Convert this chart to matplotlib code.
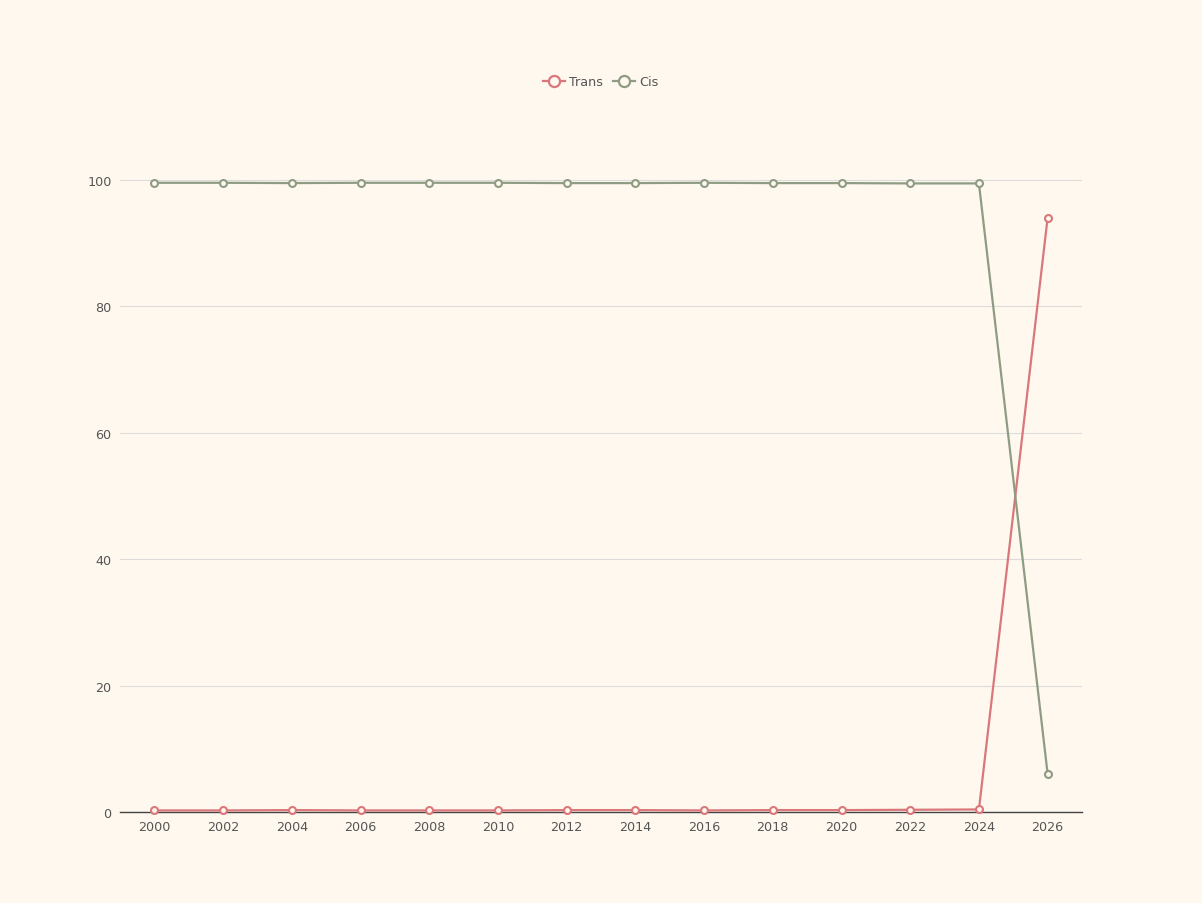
import matplotlib
matplotlib.use("Agg")
import matplotlib.pyplot as plt
from matplotlib.lines import Line2D

years = [2000, 2002, 2004, 2006, 2008, 2010, 2012, 2014, 2016, 2018, 2020, 2022, 2024, 2026]
trans = [0.25, 0.25, 0.3, 0.25, 0.25, 0.25, 0.3, 0.3, 0.25, 0.3, 0.3, 0.35, 0.4, 94.0]
cis = [99.5, 99.5, 99.45, 99.5, 99.5, 99.5, 99.45, 99.45, 99.5, 99.45, 99.45, 99.4, 99.4, 6.0]
yticks = [0, 20, 40, 60, 80, 100]
xticks = years

bg = "#FFF8EE"
c_trans = "#D9777A"
c_cis = "#8E9C84"

fig = plt.figure(figsize=(12.02, 9.04), dpi=100, facecolor=bg)
W, H = 1202, 904
ax = fig.add_axes([120 / W, (H - 813) / H, (1082 - 120) / W, (813 - 149) / H])
ax.set_facecolor(bg)

for vals, col, name in [(trans, c_trans, "Trans"), (cis, c_cis, "Cis")]:
    ax.plot(years, vals, color=col, lw=1.6, marker="o", ms=5, mfc=bg, mec=col, mew=1.5,
            label=name, zorder=3, clip_on=False)

ax.set_xlim(1999, 2027)
ax.set_ylim(0, 105)
ax.set_yticks(yticks)
ax.set_xticks(xticks)
ax.grid(axis="y", color="#DCDCDC", lw=0.8, zorder=0)
ax.grid(axis="x", visible=False)
for s in ["top", "right", "left"]:
    ax.spines[s].set_visible(False)
ax.spines["bottom"].set_color("#444444")
ax.spines["bottom"].set_linewidth(1.0)
ax.tick_params(axis="both", length=0, labelsize=9.2, labelcolor="#555555")
ax.tick_params(axis="x", pad=6)
ax.tick_params(axis="y", pad=6)

handles = [Line2D([0], [0], color=c, lw=1.6, marker="o", ms=8, mfc=bg, mec=c, mew=1.6)
           for c in (c_trans, c_cis)]
fig.legend(handles, ["Trans", "Cis"], loc="center", bbox_to_anchor=(601 / W, 1 - 83 / H),
           ncol=2, frameon=False, fontsize=9.2, labelcolor="#555555", handlelength=1.7,
           handletextpad=0.35, columnspacing=0.8)

fig.savefig("out.png", dpi=100, facecolor=bg)
